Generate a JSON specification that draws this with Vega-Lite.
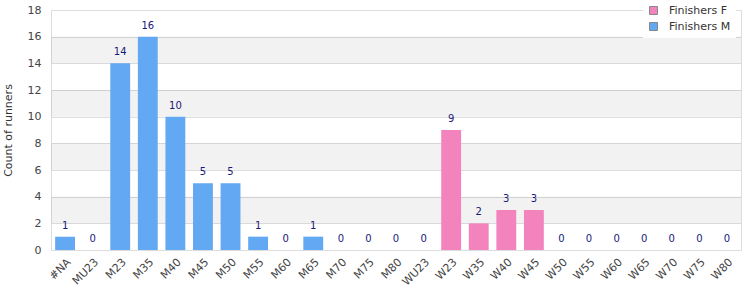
{
  "$schema": "https://vega.github.io/schema/vega-lite/v6.json",
  "width": 690,
  "height": 240,
  "autosize": {"type": "none"},
  "padding": {"left": 51, "top": 10, "right": 9, "bottom": 50},
  "background": "white",
  "config": {
    "view": {"stroke": "#dddddd", "strokeWidth": 1},
    "font": "DejaVu Sans"
  },
  "datasets": {
    "runners": [
      {"category": "#NA", "group": "Finishers M", "count": 1},
      {"category": "MU23", "group": "Finishers M", "count": 0},
      {"category": "M23", "group": "Finishers M", "count": 14},
      {"category": "M35", "group": "Finishers M", "count": 16},
      {"category": "M40", "group": "Finishers M", "count": 10},
      {"category": "M45", "group": "Finishers M", "count": 5},
      {"category": "M50", "group": "Finishers M", "count": 5},
      {"category": "M55", "group": "Finishers M", "count": 1},
      {"category": "M60", "group": "Finishers M", "count": 0},
      {"category": "M65", "group": "Finishers M", "count": 1},
      {"category": "M70", "group": "Finishers M", "count": 0},
      {"category": "M75", "group": "Finishers M", "count": 0},
      {"category": "M80", "group": "Finishers M", "count": 0},
      {"category": "WU23", "group": "Finishers F", "count": 0},
      {"category": "W23", "group": "Finishers F", "count": 9},
      {"category": "W35", "group": "Finishers F", "count": 2},
      {"category": "W40", "group": "Finishers F", "count": 3},
      {"category": "W45", "group": "Finishers F", "count": 3},
      {"category": "W50", "group": "Finishers F", "count": 0},
      {"category": "W55", "group": "Finishers F", "count": 0},
      {"category": "W60", "group": "Finishers F", "count": 0},
      {"category": "W65", "group": "Finishers F", "count": 0},
      {"category": "W70", "group": "Finishers F", "count": 0},
      {"category": "W75", "group": "Finishers F", "count": 0},
      {"category": "W80", "group": "Finishers F", "count": 0}
    ],
    "bands": [
      {"lo": 2, "hi": 4},
      {"lo": 6, "hi": 8},
      {"lo": 10, "hi": 12},
      {"lo": 14, "hi": 16}
    ]
  },
  "layer": [
    {
      "data": {"name": "bands"},
      "mark": {"type": "rect", "fill": "#000000", "fillOpacity": 0.05},
      "encoding": {
        "y": {
          "field": "lo", "type": "quantitative", "scale": {"domain": [0, 18], "nice": false},
          "axis": {
            "title": "Count of runners", "titleFontSize": 11, "titleFontWeight": "normal", "titleColor": "#333333",
            "titlePadding": 14,
            "values": [0, 2, 4, 6, 8, 10, 12, 14, 16, 18],
            "labelOverlap": false,
            "labelFontSize": 11, "labelColor": "#444444", "labelPadding": 10,
            "domain": false, "ticks": false, "grid": true, "gridColor": "#dddddd"
          }
        },
        "y2": {"field": "hi"}
      }
    },
    {
      "data": {"name": "runners"},
      "mark": {"type": "bar"},
      "encoding": {
        "x": {
          "field": "category", "type": "nominal", "sort": null,
          "scale": {"paddingInner": 0.28, "paddingOuter": 0.15},
          "axis": {
            "title": null, "labelAngle": -45, "labelFontSize": 11, "labelColor": "#444444",
            "domain": false, "ticks": false, "labelPadding": 6, "grid": false
          }
        },
        "y": {
          "field": "count", "type": "quantitative", "scale": {"domain": [0, 18], "nice": false},
          "axis": {
            "title": "Count of runners", "titleFontSize": 11, "titleFontWeight": "normal", "titleColor": "#333333",
            "titlePadding": 14,
            "values": [0, 2, 4, 6, 8, 10, 12, 14, 16, 18],
            "labelOverlap": false,
            "labelFontSize": 11, "labelColor": "#444444", "labelPadding": 10,
            "domain": false, "ticks": false, "grid": true, "gridColor": "#dddddd"
          }
        },
        "color": {
          "field": "group", "type": "nominal",
          "scale": {"domain": ["Finishers F", "Finishers M"], "range": ["#f383bd", "#62a8f2"]},
          "legend": {
            "title": null, "orient": "none", "legendX": 592, "legendY": -10,
            "fillColor": "white", "padding": 5, "symbolType": "square", "symbolSize": 64,
            "symbolStrokeColor": "#888888", "symbolStrokeWidth": 1,
            "labelFontSize": 11, "labelColor": "#333333", "rowPadding": 3, "labelOffset": 10
          }
        }
      }
    },
    {
      "data": {"name": "runners"},
      "mark": {"type": "text", "dy": -6, "fontSize": 10, "color": "#1a1a7a", "baseline": "bottom"},
      "encoding": {
        "x": {"field": "category", "type": "nominal", "sort": null},
        "y": {
          "field": "count", "type": "quantitative", "scale": {"domain": [0, 18], "nice": false},
          "axis": {
            "title": "Count of runners", "titleFontSize": 11, "titleFontWeight": "normal", "titleColor": "#333333",
            "titlePadding": 14,
            "values": [0, 2, 4, 6, 8, 10, 12, 14, 16, 18],
            "labelOverlap": false,
            "labelFontSize": 11, "labelColor": "#444444", "labelPadding": 10,
            "domain": false, "ticks": false, "grid": true, "gridColor": "#dddddd"
          }
        },
        "text": {"field": "count", "type": "quantitative"}
      }
    }
  ]
}
